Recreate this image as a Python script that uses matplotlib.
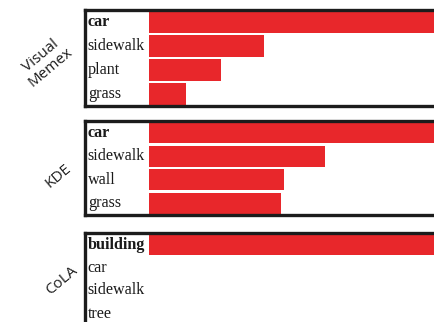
import matplotlib
matplotlib.use("Agg")
import matplotlib.pyplot as plt

# Top-ranked classes per method, relative scores (top class = 1)
methods = ["Visual\nMemex", "KDE", "CoLA"]
vm_labels = ["car", "sidewalk", "plant", "grass"]
vm_values = [1.0, 0.40, 0.25, 0.13]
kde_labels = ["car", "sidewalk", "wall", "grass"]
kde_values = [1.0, 0.61, 0.47, 0.46]
cola_labels = ["building", "car", "sidewalk", "tree"]
cola_values = [1.0, 0.0, 0.0, 0.0]

panels = [(vm_labels, vm_values), (kde_labels, kde_values), (cola_labels, cola_values)]

W, H = 434, 322
fig = plt.figure(figsize=(W / 100, H / 100), dpi=100)

# panel boxes in pixels: left, top, right, bottom
boxes = [(85, 10, 437, 106), (85, 121, 437, 215), (85, 233, 437, 325)]
group_pos = [(46, 62), (58, 176), (62, 281)]

bar_color = "#e8272b"
xmin = -0.222

for (labels, values), (l, t, r, b), name, (gx, gy) in zip(panels, boxes, methods, group_pos):
    ax = fig.add_axes([l / W, 1 - b / H, (r - l) / W, (b - t) / H])
    ypos = list(range(len(labels)))
    ax.barh(ypos, values, height=0.88, color=bar_color, left=0)
    ax.set_xlim(xmin, 1.0)
    ax.set_ylim(len(labels) - 0.5, -0.5)
    ax.set_xticks([])
    ax.set_yticks([])
    for s in ax.spines.values():
        s.set_linewidth(2.4)
        s.set_color("#1c1c1c")
    for i, lab in enumerate(labels):
        ax.text(0.008, i, lab, transform=ax.get_yaxis_transform(),
                ha="left", va="center", family="Liberation Serif",
                fontsize=11.6, color="#1a1a1a",
                fontweight="bold" if i == 0 else "normal")
    fig.text(gx / W, 1 - gy / H, name, rotation=40, ha="center", va="center",
             family="Open Sans", fontsize=11, color="#1e1e1e",
             linespacing=1.0, multialignment="center")

fig.savefig("out.png", dpi=100)
